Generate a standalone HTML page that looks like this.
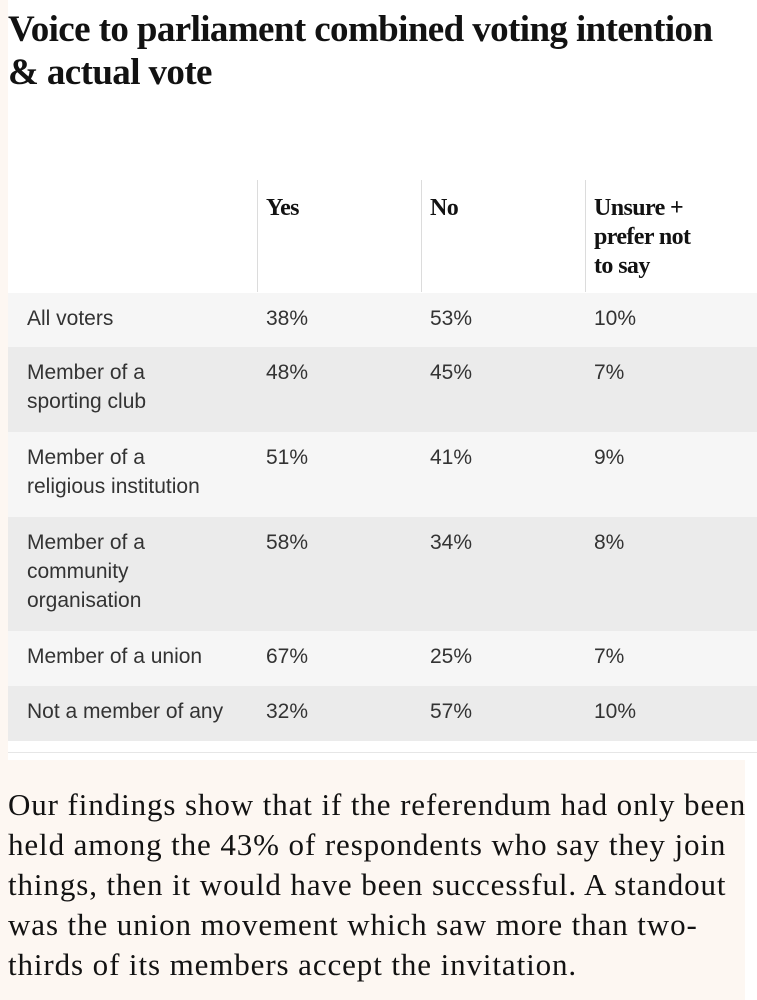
<!DOCTYPE html>
<html><head><style>
body{margin:0;width:757px;height:1000px;overflow:hidden;background:#fff;position:relative;font-family:"Liberation Sans",sans-serif;}
.strip{position:absolute;left:0;top:0;width:8px;height:1000px;background:#fdf7f2;}
.bottom{position:absolute;left:0;top:760px;width:745px;height:240px;background:#fdf7f2;}
h1{position:absolute;left:8px;top:8px;margin:0;width:749px;font-family:"Liberation Serif",serif;font-weight:bold;font-size:37px;line-height:43px;color:#121212;letter-spacing:-0.6px;white-space:nowrap;}
.hd{position:absolute;top:180px;height:112px;border-left:1px solid #dcdcdc;font-family:"Liberation Serif",serif;font-weight:bold;font-size:24px;line-height:29px;color:#121212;padding:14px 0 0 8px;box-sizing:border-box;letter-spacing:-0.6px;white-space:nowrap;}
.row{position:absolute;left:8px;width:749px;font-size:21px;line-height:29px;color:#333;}
.row div{position:absolute;top:11px;white-space:nowrap;}
.c0{left:19px}.c1{left:258px}.c2{left:422px}.c3{left:586px}
.l{background:#f6f6f6}.d{background:#ebebeb}
.foot{position:absolute;left:8px;top:752px;width:749px;height:1px;background:#e6e6e6;}
.p{position:absolute;left:8px;top:785px;width:745px;font-family:"Liberation Serif",serif;font-size:31px;line-height:40px;color:#121212;letter-spacing:0.9px;}
.p div{white-space:nowrap;}
</style></head><body>
<div class="strip"></div>
<div class="bottom"></div>
<h1>Voice to parliament combined voting intention<br>&amp; actual vote</h1>
<div class="hd" style="left:257px;width:164px">Yes</div>
<div class="hd" style="left:421px;width:164px">No</div>
<div class="hd" style="left:585px;width:150px">Unsure +<br>prefer not<br>to say</div>
<div class="row l" style="top:293px;height:54px"><div class="c0">All voters</div><div class="c1">38%</div><div class="c2">53%</div><div class="c3">10%</div></div>
<div class="row d" style="top:347px;height:85px"><div class="c0">Member of a<br>sporting club</div><div class="c1">48%</div><div class="c2">45%</div><div class="c3">7%</div></div>
<div class="row l" style="top:432px;height:85px"><div class="c0">Member of a<br>religious institution</div><div class="c1">51%</div><div class="c2">41%</div><div class="c3">9%</div></div>
<div class="row d" style="top:517px;height:114px"><div class="c0">Member of a<br>community<br>organisation</div><div class="c1">58%</div><div class="c2">34%</div><div class="c3">8%</div></div>
<div class="row l" style="top:631px;height:55px"><div class="c0">Member of a union</div><div class="c1">67%</div><div class="c2">25%</div><div class="c3">7%</div></div>
<div class="row d" style="top:686px;height:55px"><div class="c0">Not a member of any</div><div class="c1">32%</div><div class="c2">57%</div><div class="c3">10%</div></div>
<div class="foot"></div>
<div class="p">
<div>Our findings show that if the referendum had only been</div>
<div>held among the 43% of respondents who say they join</div>
<div>things, then it would have been successful. A standout</div>
<div>was the union movement which saw more than two-</div>
<div>thirds of its members accept the invitation.</div>
</div>
</body></html>
